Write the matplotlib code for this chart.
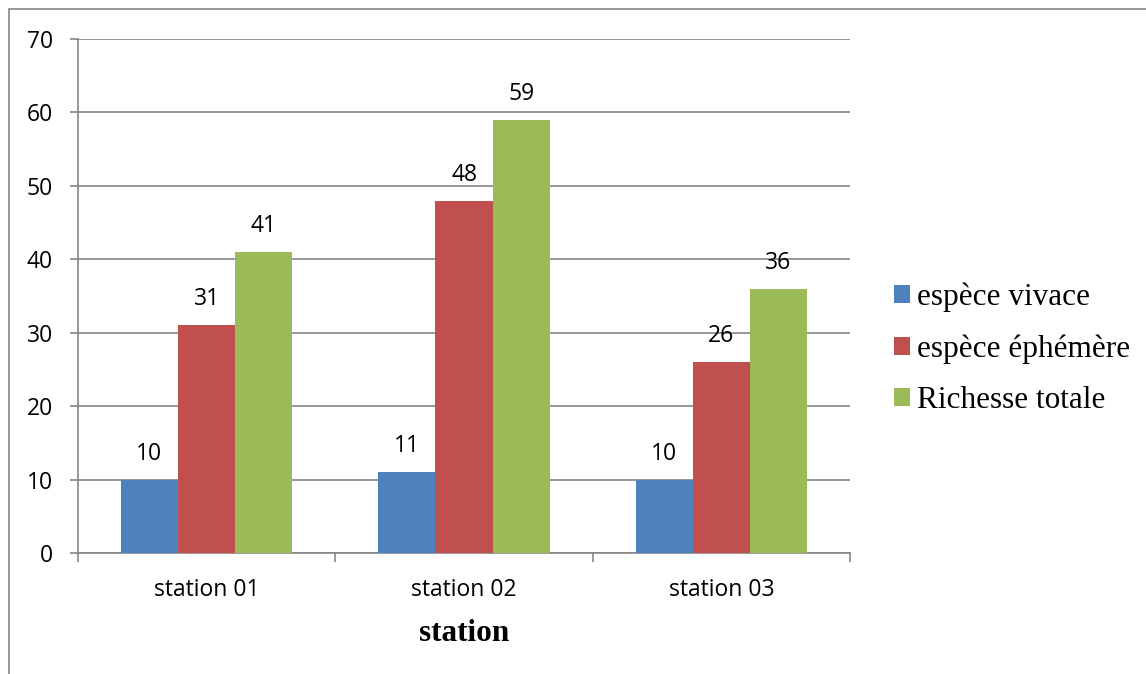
import matplotlib

matplotlib.use("Agg")
import matplotlib.pyplot as plt
import numpy as np
from matplotlib.patches import Rectangle

stations = ["station 01", "station 02", "station 03"]
series_names = ["espèce vivace", "espèce éphémère", "Richesse totale"]
vivace = [10, 11, 10]
ephemere = [31, 48, 26]
richesse = [41, 59, 36]
y_ticks = [0, 10, 20, 30, 40, 50, 60, 70]

COLORS = ["#4f81bd", "#c0504d", "#9bbb59"]
GRID = "#868686"
SANS = ["Open Sans", "DejaVu Sans"]
SERIF = ["Liberation Serif", "DejaVu Serif"]

W, H = 1146, 674
fig = plt.figure(figsize=(W / 100, H / 100), dpi=100)

# outer chart border (runs off the right and bottom edge)
fig.patches.append(Rectangle((9 / W, -0.1), 2.0, 1 - 9 / H + 0.1,
                             transform=fig.transFigure, fill=False,
                             edgecolor=GRID, linewidth=1.2))

ax = fig.add_axes([78 / W, 1 - 553 / H, (850 - 78) / W, (553 - 39) / H])

x = np.arange(len(stations))
bw = 1 / 4.5
for i, (vals, name) in enumerate(zip([vivace, ephemere, richesse], series_names)):
    bars = ax.bar(x + (i - 1) * bw, vals, bw, color=COLORS[i], label=name, zorder=3)
    for b, v in zip(bars, vals):
        ax.annotate(str(v), (b.get_x() + b.get_width() / 2, v), xytext=(0, 10),
                    textcoords="offset points", ha="center", va="bottom",
                    fontsize=16.5, family=SANS, color="black")

ax.set_xlim(-0.5, len(stations) - 0.5)
ax.set_ylim(0, 70)
ax.set_yticks(y_ticks)
ax.set_yticklabels([str(t) for t in y_ticks], fontsize=16.5, family=SANS)
ax.yaxis.grid(True, color=GRID, linewidth=1.2, zorder=0)
ax.set_axisbelow(True)

ax.set_xticks(x)
ax.set_xticklabels(stations, fontsize=16.5, family=SANS)
ax.tick_params(axis="x", length=0, pad=18)
ax.set_xticks(np.arange(len(stations) + 1) - 0.5, minor=True)
ax.tick_params(axis="x", which="minor", length=6.5, color=GRID, width=1.2)
ax.tick_params(axis="y", length=6, color=GRID, width=1.2, pad=12)

for s in ["top", "right"]:
    ax.spines[s].set_visible(False)
for s in ["left", "bottom"]:
    ax.spines[s].set_color(GRID)
    ax.spines[s].set_linewidth(1.2)

ax.set_xlabel("station", fontsize=22.5, family=SERIF, fontweight="bold", labelpad=12)

leg = ax.legend(loc="center left", bbox_to_anchor=(1.02, 0.397), frameon=False,
                prop={"family": SERIF, "size": 22.5}, handlelength=0.52,
                handleheight=0.52, handletextpad=0.24, labelspacing=0.72)

fig.savefig("out.png", dpi=100)
